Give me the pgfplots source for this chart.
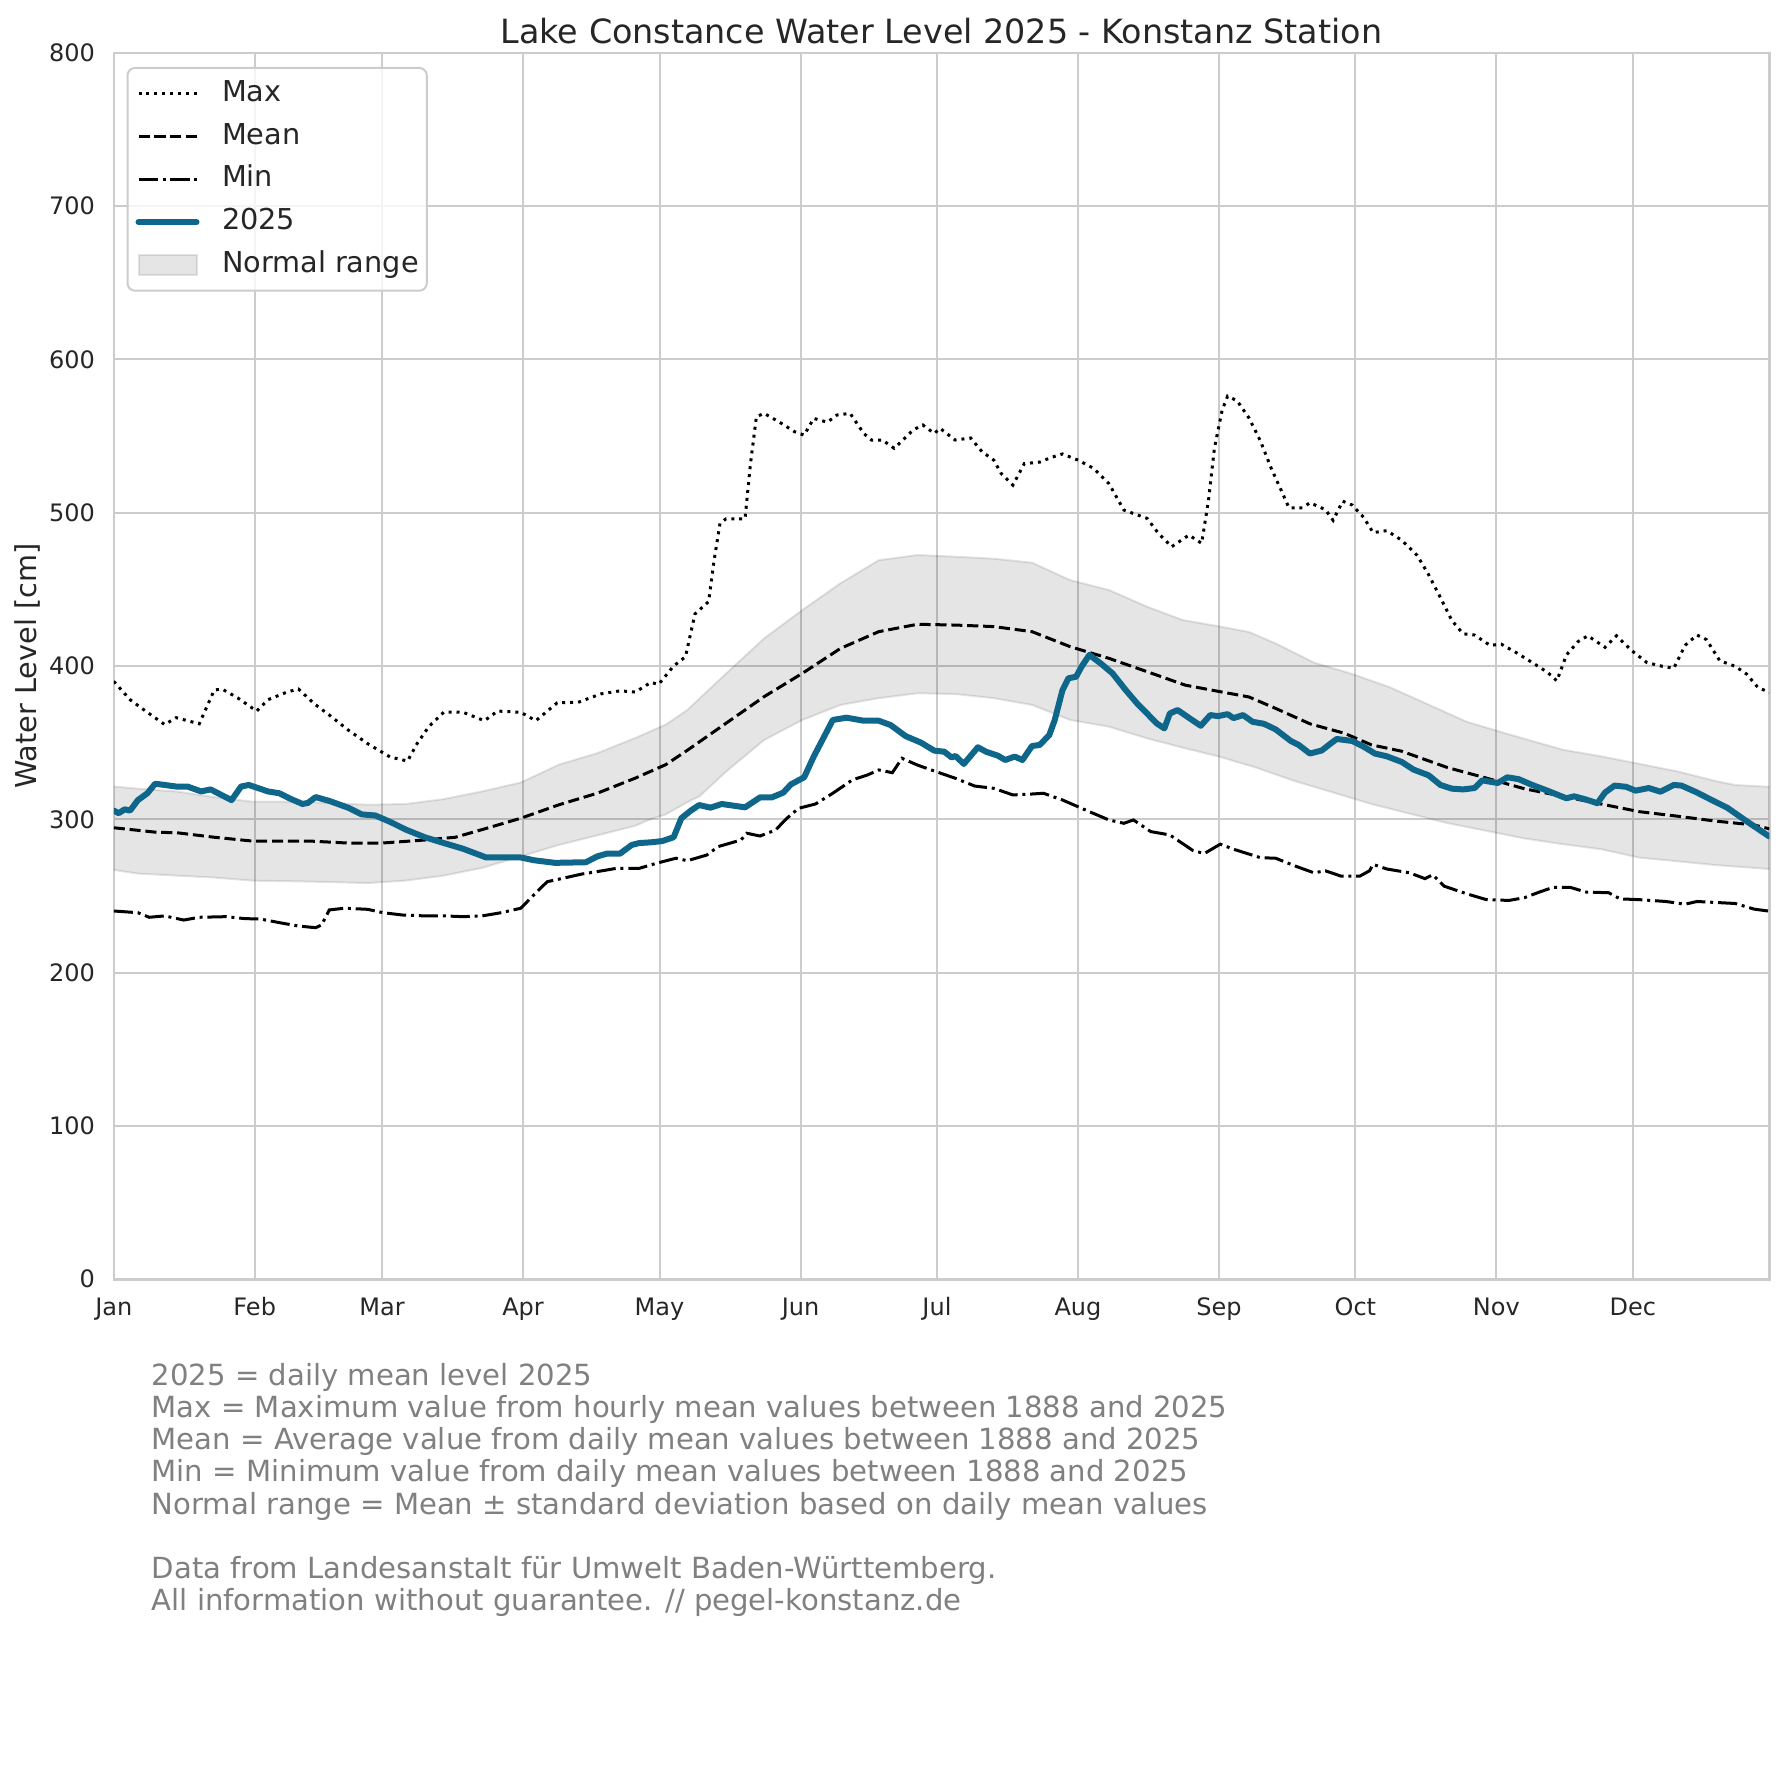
\documentclass[border=0pt]{standalone}
\usepackage{fontspec}
\setmainfont{DejaVu Sans}
\usepackage{pgfplots}
\usepackage{pgfplotstable}
\pgfplotsset{compat=1.18}
\usepgfplotslibrary{fillbetween}
\definecolor{tdark}{HTML}{262626}
\definecolor{gridc}{HTML}{CCCCCC}
\definecolor{footc}{HTML}{808080}
\definecolor{c25}{RGB}{14,102,138}

\pgfplotstableread{
d v
0 390
3.6 378
7 370.6
11.2 361.8
13.7 366.3
18.8 362.3
22.1 384.3
23.8 385
27.2 379.3
31.4 370.6
33.9 378
38.1 383
40.6 385
44 375.6
47.4 368
51.6 358.1
55.8 349.4
60.8 340.6
64.6 338
66.7 349.4
69.3 360.6
72.6 370
76.8 369.8
81.5 364.3
84.4 370.6
89.5 369.8
92.8 364.3
97.5 376
102.1 376.3
107.1 381.8
111.3 383.8
114.7 383
118.1 389.3
119.8 388
123.1 400
125.7 406
127.8 434
130.8 442
132 469
133.3 493
134.6 496
138.8 496
140 532
141.3 562.6
143 564.8
146.4 559
149.7 552.8
151.8 550.6
153.9 561.5
156.9 559
159 563.7
161.9 564.8
164.9 551.7
166.6 547.4
169 547.4
171.6 542
175.8 554
177.9 557.2
180.4 551.7
181.7 555
185 547.4
188.4 548.7
190.9 539.8
193.5 534.3
195.1 525.6
197.7 518
200.2 532
203.6 533
206.1 536
208.6 538.3
212 534.3
215.4 529
218.8 519
222.1 501.7
227.2 496.3
229.7 486.5
232.6 477.8
236.4 485.4
239.2 480
240.7 508
242 541.9
243.7 566.8
244.9 576
247 573
249.6 561.8
252.1 546.9
254.6 528.2
256.7 514.5
258.4 503.2
261.4 503.2
263 506.5
266.4 502
268.1 495
270.2 507.5
272.3 505
274.8 497
276.9 487
279.9 488.3
283.2 482
286.6 472.1
289.1 459.6
291.7 444.6
294.2 429.7
296.7 421
299.2 420.2
302.6 413.5
305.1 414.2
308.5 408.5
311.9 402.2
315.2 396
317.3 390.3
319.4 407.2
322 416
324.1 419.7
327.9 412.2
330.4 419.7
333.7 410.2
337.1 402.2
340.5 399.8
343 398.5
345.5 413.5
348.1 420.2
350.2 417.2
353.1 403.5
356.5 399.8
359 394.8
361.5 386
364 382.8
}\tmax

\pgfplotstableread{
d v
0 294.5
9.5 291.5
13.7 291.3
22.1 288.3
30.5 285.8
43.2 285.8
51.6 284.5
58.9 284.5
68.4 286.5
75.1 288.3
81 293.3
89.5 300.7
97.9 309.5
106.3 317
114.7 326.9
121.4 335.7
126.1 345
134.6 362.6
143 380
151.4 395.2
159.8 411.5
168.2 422.4
176.7 427.2
185.1 426.7
193.5 425.7
201.9 422.4
210.3 412.6
218.8 405
227.2 396.3
235.6 387.5
242.8 383.5
249.6 379.8
255.5 372.3
263 362.3
270.6 356.1
276.5 348.6
283.2 344.4
293.3 333.7
301.8 326.9
310.2 319.9
318.6 315
327 310
335.4 305
343.9 302
352.3 298.8
360.7 296.3
364 293.8
}\tmean

\pgfplotstableread{
d v
0 321.4
5.3 320
13.7 318.2
22.1 314.5
30.5 311.5
39 311.5
47.4 310.7
55.8 309.5
64.2 310
72.6 313.2
81 318.2
89.5 324
97.9 335.7
106.3 343.1
114.7 353.1
121.4 361.8
126.1 371.3
134.6 395
143 418
151.4 436.5
159.8 454
168.2 469
176.7 472.4
185.1 471.3
193.5 470
201.9 467.4
210.3 456
218.8 449.6
227.2 438.7
235 430
242.8 426
249.6 422.2
255.5 414.7
263.9 402.2
272.3 394.8
280.7 386
289.1 374.8
297.5 363.6
306 356.1
318.6 345.4
327 341.1
335.4 336.2
343.9 331.2
352.3 324.9
356.5 322.4
364 321.2
}\tup

\pgfplotstableread{
d v
0 267
5.3 264.6
13.7 263.3
22.1 262
30.5 260
39 259.6
47.4 259.1
55.8 258.4
64.2 260
72.6 263.3
81 268.3
89.5 275.8
97.9 283.3
106.3 289.5
114.7 295.8
118 300
121.4 303.2
126 311
128.8 315
134.6 331
143 351.7
151.4 364.8
159.8 374.6
168.2 379
176.7 382.2
185.1 381.7
193.5 379
201.9 374.6
210.3 364.8
218.8 360.4
227.2 352.8
235.6 346.3
242.8 341.1
251.2 333.7
259.7 324.9
268.1 317.5
276.5 310
284.9 303.7
293.3 297.5
301.8 292.5
310.2 287.5
318.6 283.8
327 280.5
335.4 275
343.9 272.6
352.3 270.1
364 267.6
}\tlow

\pgfplotstableread{
d v
0 240.2
5.3 239.1
7.8 236.1
11.2 237
15.4 234.3
18.8 236.1
24.7 236.5
28.9 235.2
32.2 235
36.4 232.6
40.6 230.4
44.4 229.3
45.7 231.1
47.4 240.9
50.7 242
55.8 241.3
59.2 239.1
63.4 237.6
68.4 237
72.6 237
76.8 236.5
81 237
85.2 239.1
89.5 242
92 249.6
95.3 259.3
98.7 261.5
102.9 264.3
106.3 265.9
110.5 268
115.5 268
119.8 271.7
123.6 274.6
126.1 273
130.4 276.7
132.9 282.2
137.9 286.5
139.2 290.9
142.1 289.1
145.5 293
148 300.7
150.6 307.2
154.3 310
158.1 317
162.4 325.7
165.7 328.9
168.2 332.2
171.2 330.4
173.3 339.8
176.7 335.4
180.9 331
185.1 326.7
189.3 321.7
193.5 320.2
197.7 315.9
201.9 316.5
204.4 317
208.6 312.6
214.5 305
218.8 299.6
222.1 297.4
224.2 299.6
228 292
232.2 289.8
237.3 279.6
239.8 277.7
243.3 283.8
246.2 280.5
252.1 275
255.5 274.6
259.7 269.6
263.9 265.1
266.4 266.4
269.8 263
274 263
276.1 266.4
276.9 270.6
279.9 267.6
284.9 265.1
288.3 261.3
290 263.8
292.5 256.4
297.5 251.4
301.8 247.6
306.8 247.1
310.2 248.9
313.5 252.6
316.5 255.6
320.3 255.6
323.6 252.6
328.7 252.1
331.2 248.1
335.4 247.6
341.3 246.4
345.5 244.6
348.1 246.4
356.5 245.1
360.7 241.4
364 240.1
}\tmin

\pgfplotstableread{
d v
0 305.7
1.1 304
2.4 306.5
3.6 305.7
5.3 312.5
7.4 317
9.1 323.2
11.2 322.4
13.7 321.4
16.2 321.4
19.2 318.2
21.3 319.5
23.8 315.7
25.9 312.5
28 321.4
29.7 322.4
33.9 318.2
36.4 317
39 313.2
41.5 310
42.7 310.7
44.4 314.5
47.4 312
51.6 307.5
54.5 303.2
57.5 302.5
60.8 298.3
64.2 293.3
68.4 288.3
72.6 284.5
76.8 280.8
81.9 275.1
89.5 275.1
92.4 273.3
97 271.6
103.8 272
106.3 275.8
108.4 277.6
111.3 277.6
113.9 283.3
115.5 284.5
118.1 285
120.6 285.8
123.1 288.3
124.8 300.7
126.9 305.7
128.7 309.3
131.2 307.6
133.7 310
138.8 307.8
142.1 314.3
144.7 314.3
147.2 317.4
148.9 322.8
151.8 327.4
153.9 340.9
158.1 364.8
161.1 366.3
164.9 364.3
168.2 364.3
170.8 361.5
174.1 354.3
177.5 350
180.4 344.8
182.6 344.1
184.2 340.4
185.1 341.3
186.9 336.1
190 347
191.8 344.1
194.4 341.5
196 338.7
198.1 340.9
199.8 338.7
201.9 347.8
203.6 348.5
205.7 355
206.9 364.8
208.6 384.3
209.9 392
211.6 393
212.8 399.6
214.5 407.2
217 401.7
219.6 395.2
222.5 384.3
225 375.6
227.2 369
229.3 362.6
231 359.3
232.2 369
233.9 371.3
236.5 366
239 361
241.1 368
242.8 367.3
244.9 368.6
246.2 366
248.3 368
250.4 363.6
252.9 362.3
255.5 358.6
258.8 351.1
260.5 348.6
263 342.9
265.6 344.9
267.2 348.6
268.9 352.4
272.3 351.1
274.8 347.4
277.3 342.9
279.9 341.1
283.2 337.4
285.8 332.4
289.1 328.7
291.7 322.4
294.2 320
296.7 319.5
299.2 320.4
300.9 325.4
304.3 323.7
306.4 327.4
308.9 326.2
311.9 322.4
315.2 318.7
319.4 313.7
321.1 315
323.6 313
326.2 310.5
327.9 317.5
330 322
332.5 321.2
334.6 318.7
337.5 320.4
340.1 318
343 322.4
344.7 322
348.1 317.5
351.4 312.5
354.8 307.5
359 298.8
364 288.8
}\tyear

\begin{document}
\begin{tikzpicture}
\begin{axis}[
  scale only axis,
  width=662.2bp, height=490.6bp,
  xmin=0, xmax=364, ymin=0, ymax=800,
  xtick={0,31,59,90,120,151,181,212,243,273,304,334},
  xticklabels={Jan,Feb,Mar,Apr,May,Jun,Jul,Aug,Sep,Oct,Nov,Dec},
  ytick={0,100,200,300,400,500,600,700,800},
  grid=major,
  grid style={gridc, line width=0.8bp},
  axis line style={gridc, line width=1bp},
  major tick length=0pt,
  tick style={draw=none},
  /pgf/number format/assume math mode=true,
  ticklabel style={font=\fontsize{9.6bp}{11.5bp}\selectfont, text=tdark},
  xticklabel style={anchor=base, inner sep=0pt, yshift=-14.3bp},
  yticklabel style={anchor=east, inner sep=0pt, xshift=-7.3bp},
  no markers,
  legend cell align=left,
  legend image code/.code={\draw[#1] (0bp,0bp) -- (23.2bp,0bp);},
  legend style={
    at={(axis description cs:0.0077,0.9884)}, anchor=north west,
    draw=gridc, line width=0.8bp, rounded corners=3bp,
    fill=white, fill opacity=0.8, text opacity=1, draw opacity=1,
    font=\fontsize{11.5bp}{13.8bp}\selectfont, text=tdark,
    inner xsep=3.2bp, inner ysep=5bp,
    row sep=6.4bp, column sep=9bp,
    nodes={inner sep=0pt, text height=8.4bp, text depth=2.3bp},
  },
]
\addplot[name path=up, draw=black, draw opacity=0.1, line width=0.8bp, forget plot] table[x=d,y=v]{\tup};
\addplot[name path=lo, draw=black, draw opacity=0.1, line width=0.8bp, forget plot] table[x=d,y=v]{\tlow};
\addplot[fill=black, fill opacity=0.1, draw=none, forget plot] fill between[of=up and lo];

\addplot[black, line width=1.2bp, dash pattern=on 1.2bp off 1.98bp] table[x=d,y=v]{\tmax};
\addlegendentry{Max}
\addplot[black, line width=1.2bp, dash pattern=on 4.44bp off 1.92bp] table[x=d,y=v]{\tmean};
\addlegendentry{Mean}
\addplot[black, line width=1.2bp, dash pattern=on 7.68bp off 1.92bp on 1.2bp off 1.92bp] table[x=d,y=v]{\tmin};
\addlegendentry{Min}
\addplot[c25, line width=2.4bp, line join=round, line cap=round] table[x=d,y=v]{\tyear};
\addlegendentry{2025}
\addlegendimage{legend image code/.code={\draw[fill=black, fill opacity=0.1, draw=black, draw opacity=0.1, line width=0.8bp, sharp corners] (0bp,-4bp) rectangle (23.2bp,4bp);}}
\addlegendentry{Normal range}
\end{axis}

\node[anchor=base, inner sep=0pt, text=tdark, font=\fontsize{13.35bp}{16bp}\selectfont] at (331.1bp,494.4bp) {Lake Constance Water Level 2025 - Konstanz Station};
\node[rotate=90, anchor=center, inner sep=0pt, text=tdark, font=\fontsize{11.5bp}{13.8bp}\selectfont] at (-34.7bp,245.3bp) {Water Level [cm]};

\begin{scope}[every node/.style={anchor=base west, inner sep=0pt, text=footc, font=\fontsize{11.65bp}{12.9bp}\selectfont}]
\node at (15bp,-42.3bp) {2025 = daily mean level 2025};
\node at (15bp,-55.2bp) {Max = Maximum value from hourly mean values between 1888 and 2025};
\node at (15bp,-68.1bp) {Mean = Average value from daily mean values between 1888 and 2025};
\node at (15bp,-81.0bp) {Min = Minimum value from daily mean values between 1888 and 2025};
\node at (15bp,-93.9bp) {Normal range = Mean ± standard deviation based on daily mean values};
\node at (15bp,-119.7bp) {Data from Landesanstalt für Umwelt Baden-Württemberg.};
\node at (15bp,-132.6bp) {All information without guarantee. // pegel-konstanz.de};
\end{scope}
\path (-45.5bp,-202.7bp) rectangle (668.1bp,511.7bp);
\end{tikzpicture}
\end{document}
